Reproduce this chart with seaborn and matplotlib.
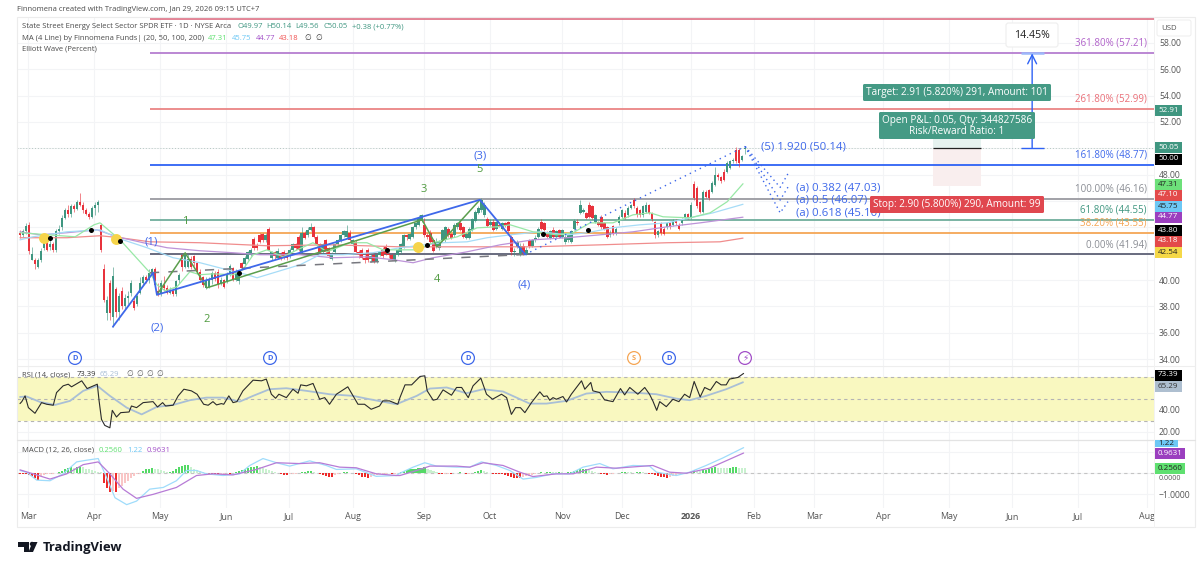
import matplotlib
matplotlib.use("Agg")
import matplotlib.pyplot as plt
from matplotlib.patches import Rectangle, FancyBboxPatch, Circle, Polygon
import seaborn as sns

# ---------- candles (one entry per trading day) ----------
bar_open = [
43.6,43.4,43.7,44.2,41.5,41.5,41.0,41.5,42.4,42.9,
42.5,42.7,42.3,43.7,44.0,44.7,45.3,45.0,45.6,45.4,
45.9,45.7,45.3,45.0,44.8,45.5,45.7,44.2,40.8,37.5,
39.8,37.2,39.3,37.6,39.2,38.0,38.6,39.0,38.4,38.2,
39.0,39.8,40.2,40.0,40.4,40.8,39.2,38.9,39.6,39.4,
39.0,39.2,38.9,40.0,41.9,41.0,41.0,41.6,41.8,41.3,
40.6,40.2,39.4,39.5,40.0,40.5,40.6,39.7,40.0,39.9,
40.4,40.9,40.0,39.9,41.3,41.2,41.6,41.9,43.1,42.6,
43.4,43.5,43.0,43.9,41.7,42.1,41.7,42.0,42.1,42.0,
41.8,42.3,42.7,43.3,42.05,43.6,43.4,43.8,44.0,43.3,
42.7,42.1,43.0,42.4,41.6,42.1,42.7,43.0,43.4,43.3,
43.6,42.7,42.9,42.1,42.3,41.7,42.3,41.6,41.9,41.4,
41.9,42.3,42.5,42.0,41.9,41.5,41.9,42.1,42.5,43.4,
43.1,43.3,44.0,44.2,44.5,44.2,43.4,43.6,43.0,42.6,
42.4,43.0,43.0,43.9,43.5,43.4,44.0,44.3,44.0,43.2,
43.2,43.8,44.5,45.1,45.3,44.9,44.6,44.2,44.4,43.9,
44.2,43.9,44.3,44.4,43.3,42.1,42.5,41.9,42.6,42.0,
43.0,42.6,43.0,43.3,44.4,44.3,43.6,43.2,43.8,43.3,
43.8,43.3,42.9,43.0,42.9,43.9,44.4,45.1,45.2,45.1,
45.7,45.6,44.4,44.4,44.8,44.3,44.0,43.4,44.1,43.5,
44.3,44.8,45.1,44.9,45.5,46.1,45.5,45.3,44.9,45.2,
45.7,45.1,44.4,43.4,44.3,43.9,44.0,44.3,44.2,44.5,
44.2,44.3,44.7,45.0,44.7,47.3,47.0,45.9,45.2,46.7,
46.8,46.7,47.2,48.0,47.8,48.2,48.2,48.5,49.0,49.9,
49.9,49.1,49.97]
bar_close = [
43.4,43.7,44.1,42.2,42.0,41.2,41.5,42.2,42.9,42.3,
42.7,42.3,43.7,43.9,44.7,45.3,45.0,45.6,45.4,45.9,
45.7,45.3,45.0,44.8,45.5,45.7,45.9,42.3,38.5,38.5,
37.5,40.3,37.6,38.8,38.0,38.6,38.8,39.8,37.9,38.8,
39.8,40.2,40.0,40.5,40.8,39.6,38.9,39.8,39.4,39.0,
39.2,38.9,39.9,40.4,41.0,41.9,41.6,41.0,41.3,40.6,
40.0,39.6,40.0,40.0,40.5,40.1,39.6,40.0,39.5,40.4,
41.1,40.0,40.7,40.6,40.9,41.7,42.1,42.3,42.4,42.4,
42.9,43.0,43.4,42.3,42.1,41.8,42.2,41.6,41.8,41.7,
42.3,42.7,42.4,42.3,43.6,43.2,43.8,44.0,43.3,42.7,
42.1,42.7,42.1,41.8,42.0,42.7,43.0,43.4,43.7,43.7,
43.0,43.0,42.1,41.9,41.7,41.5,41.5,41.8,41.4,41.9,
42.1,41.8,42.0,41.9,41.6,41.9,42.3,42.7,43.4,43.3,
43.5,44.0,44.3,44.7,44.9,43.4,43.3,42.9,42.2,42.9,
42.9,43.8,44.0,43.4,43.2,44.2,44.3,43.8,43.3,43.5,
43.9,44.6,45.2,45.5,46.1,45.7,44.1,44.4,43.8,44.4,
44.1,44.3,44.1,43.7,42.1,42.2,42.9,42.6,41.9,42.3,
42.6,43.0,43.2,43.9,43.9,43.8,43.3,43.7,43.3,43.7,
43.3,43.8,43.3,43.4,43.7,44.5,44.3,45.7,45.3,44.7,
44.8,44.7,44.9,44.2,44.0,43.9,43.3,43.6,43.5,43.9,
44.8,45.3,44.7,45.5,45.7,45.6,44.9,44.9,45.6,45.7,
45.1,44.6,43.4,43.7,43.6,43.5,44.3,44.0,44.5,44.3,
43.9,44.6,45.0,44.7,45.7,46.2,45.6,45.2,46.7,46.3,
46.2,47.4,48.0,47.8,47.5,47.6,48.9,49.0,49.1,49.0,
48.9,49.4,50.05]
bar_high = [
43.8,43.9,44.3,44.4,42.5,41.7,41.7,42.4,43.1,43.2,
43.0,42.9,43.9,44.2,44.9,45.5,45.7,45.8,45.8,46.1,
46.6,45.9,45.5,45.2,45.6,45.9,46.1,44.3,41.2,38.8,
40.0,41.0,39.5,39.0,39.5,38.9,39.2,40.0,38.8,39.0,
40.2,40.4,40.4,40.8,40.9,41.0,39.8,40.0,40.3,39.6,
39.5,39.4,40.0,40.5,41.9,42.1,42.0,41.8,41.9,41.4,
40.8,40.3,40.2,40.2,40.7,40.7,40.8,40.2,40.1,40.6,
41.2,41.0,40.8,40.7,41.4,41.8,42.2,42.4,43.3,42.8,
43.6,43.6,43.6,44.0,42.2,42.2,42.4,42.1,42.3,42.1,
42.4,42.8,42.8,43.4,44.0,43.7,44.0,44.3,44.1,43.4,
42.8,42.8,43.1,42.5,42.1,42.8,43.1,43.5,43.8,44.2,
43.8,43.1,43.0,42.3,42.4,41.9,42.4,42.0,42.0,42.0,
42.2,42.5,42.7,42.1,42.0,42.0,42.4,42.8,43.5,43.5,
43.6,44.1,44.4,44.9,45.0,44.7,43.6,43.8,43.1,43.2,
43.0,43.9,44.1,44.0,43.6,44.3,44.4,44.5,44.1,43.6,
44.0,44.7,45.3,45.6,46.2,45.9,44.8,44.6,44.6,44.5,
44.4,44.4,44.4,44.5,43.4,42.4,43.0,42.8,42.8,42.5,
43.1,43.1,43.4,44.0,44.6,44.4,43.7,43.8,44.0,43.8,
43.9,43.9,43.4,43.5,43.8,44.6,44.6,46.1,45.5,45.2,
45.9,45.7,45.0,44.5,44.9,44.4,44.1,43.8,44.2,44.0,
44.9,45.4,45.3,45.6,45.8,46.2,45.6,45.4,45.7,45.9,
45.8,45.2,44.5,43.8,44.4,44.0,44.4,44.4,44.6,44.6,
44.3,44.7,45.1,45.1,45.9,47.5,47.1,46.0,46.8,46.8,
46.9,47.5,48.6,48.1,47.9,48.4,49.0,49.1,49.3,50.1,
50.0,49.5,50.14]
bar_low = [
43.2,43.3,43.5,42.0,41.5,40.8,40.9,41.4,42.3,42.2,
42.3,42.1,42.1,43.5,43.8,44.6,44.8,44.8,45.2,45.3,
45.6,45.1,44.9,44.6,44.7,44.9,45.2,42.1,38.3,37.0,
37.0,36.4,37.2,37.0,37.8,37.8,38.2,38.8,37.7,38.0,
38.9,39.6,39.8,39.8,40.2,39.4,38.8,38.8,39.2,38.9,
38.9,38.8,38.8,39.8,40.7,40.9,40.9,40.8,41.1,40.5,
39.9,39.5,39.3,39.4,39.7,39.9,39.4,39.6,39.4,39.8,
40.3,39.9,39.9,39.7,40.8,41.1,41.5,41.8,42.3,42.3,
42.8,42.9,42.9,42.3,41.5,41.6,41.6,41.5,41.6,41.5,
41.7,42.2,42.3,42.2,42.0,43.1,43.3,43.7,43.2,42.6,
42.0,42.0,42.0,41.7,41.5,42.0,42.6,42.9,43.3,43.2,
42.9,42.6,42.0,41.7,41.6,41.3,41.4,41.4,41.3,41.3,
41.8,41.7,41.9,41.7,41.5,41.4,41.8,42.0,42.4,43.0,
43.0,43.2,43.9,44.1,44.4,43.3,43.1,42.8,42.1,42.4,
42.3,42.9,42.9,43.3,43.1,43.3,43.9,43.7,43.2,43.1,
43.1,43.7,44.4,45.0,45.2,44.8,44.0,44.1,43.7,43.8,
44.0,43.8,44.0,43.6,41.9,41.8,42.4,41.8,41.9,41.9,
42.4,42.5,42.9,43.2,43.8,43.7,43.2,43.1,43.2,43.2,
43.2,43.2,42.7,42.9,42.8,43.8,44.2,45.0,45.1,44.6,
44.7,44.6,44.3,44.1,43.9,43.8,43.2,43.3,43.4,43.4,
44.2,44.7,44.6,44.8,45.4,45.5,44.8,44.8,44.8,45.1,
45.0,44.5,43.2,43.3,43.4,43.4,43.9,43.9,44.1,44.2,
43.8,44.2,44.6,44.6,44.6,46.1,45.5,45.1,45.1,46.2,
46.1,46.6,47.1,47.6,47.4,47.5,48.1,48.4,48.9,48.9,
48.6,49.0,49.56]

# ---------- moving averages ----------
ma20_x = [0,18.4,24.7,26.7,33.4,43.4,45.7,48.4,52.4,56.7,60.1,64.4,71.1,74.4,77.8,82.4,87.8,92.5,97.8,102.5,110.1,115.8,121.2,126.8,132.5,137.8,145.9,152.5,159.2,163.6,171.2,179.2,184.6,190.3,197.9,204.6,210.3,214.6,223.6,230.3,236,241.3]
ma20_y = [43.59,43.28,44.19,44.34,43.05,40.55,39.64,39.18,39.49,40.63,40.4,40.47,40.4,40.78,41.91,42.29,41.76,42.29,42.83,42.14,42.83,42.83,42.29,42.29,42.29,42.83,43.28,43.96,44.04,44.19,43.66,43.43,43.59,44.34,44.34,44.95,45.1,44.8,44.72,45.1,45.94,47.31]
ma50_x = [0,4.3,15.7,26.7,32.4,42.4,51.1,60.1,69.1,75.8,79.1,85.8,93.5,100.1,107.8,117.8,126.8,141.2,149.2,155.9,163.6,173.6,182.6,189.3,197.9,206.9,216,223.6,231.3,241.3]
ma50_y = [43.05,43.28,43.66,43.81,43.2,42.45,41.69,41.31,40.78,40.4,40.17,40.63,41.16,41.92,41.92,42.07,42.45,42.83,42.9,43.21,43.43,43.66,43.43,43.59,43.97,44.19,44.34,44.72,45.1,45.75]
ma100_x = [0,6.7,15.7,25.7,32.4,41.1,49.1,60.1,71.1,80.1,93.5,104.5,115.8,124.5,131.2,137.8,149.2,160.2,171.2,182.6,193.6,204.6,216,227,241.3]
ma100_y = [43.66,43.43,43.59,43.81,43.28,42.83,42.45,42.22,42.07,41.92,41.92,41.69,41.76,41.54,41.31,41.69,42.14,42.67,43.05,43.21,43.43,43.66,44.04,44.34,44.77]
ma200_x = [0,15.7,26.7,33.4,43.4,60.1,82.4,104.5,126.8,149.2,171.2,193.6,216,233.6,241.3]
ma200_y = [43.21,43.21,43.36,43.21,42.9,42.83,42.6,42.67,42.52,42.52,42.52,42.67,42.83,42.9,43.18]

# ---------- Elliott wave, fib levels ----------
fib_levels = [59.82,57.21,52.99,48.77,46.16,44.55,43.55,41.94]
fib_colors = ["#e0788c","#b57ed0","#ea8585","#2e62f5","#9a9aa0","#6fae9c","#f5a655","#5d6075"]
wave_x = [31,44.4,45.7,153.5,168.6]
wave_y = [36.45,40.55,38.88,46.09,41.94]
subwave_x = [45.7,55.1,62.4,134.2,139.2,153.5]
subwave_y = [38.88,42.06,39.41,44.57,42.52,46.09]
trend_x = [43.4,168.6]
trend_y = [40.55,41.94]
proj_x = [168.6,242]
proj_y = [41.94,50.14]
abc_x = [242,253.7,256.3]
abc_y = [[50.14,47.03,48.07],[50.14,46.07,47.05],[50.14,45.10,45.95]]
black_x = [10,23.7,33.4,73.1,122.5,135.9,174.6,189.6]
black_y = [43.2,43.81,42.98,40.55,42.29,42.67,43.51,43.81]
gold_x = [8,32,132.8]
gold_y = [43.2,43.13,42.52]

# ---------- RSI ----------
rsi_x = [0,0.6,1.7,2.8,5,7.2,8.9,11.1,12.2,14.4,16.1,17.2,20.6,22.4,25.8,26.4,27.2,28.3,30,30.8,32.2,33.6,36.4,37.2,38.9,41.1,44.4,45.9,47.6,48.6,51.1,52.8,54.7,57.2,59.1,61.3,62.8,64.4,65.6,67.2,68,69.7,71.1,72.4,74.4,77.8,80.6,82.2,83.9,85.3,86.4,88.9,91.1,92.8,93.7,95.6,97.8,100,101.7,103.3,105.6,109.4,112.8,115,117.2,120,121.1,123.3,126.1,
126.8,128.5,130.7,133.5,135.1,135.9,137.9,139.2,141.2,144,145.7,147.4,149.6,151.2,153.8,155.7,157.7,160.7,162.4,164,165.4,167,168.5,170.7,173.5,174.8,175.9,176.8,177.9,179,181.2,182.4,184,187.4,188.5,190.5,191.2,193.5,195.1,197.9,200.4,201.8,203.5,206.2,208.5,210.1,211.2,212.5,213.5,215.7,217.9,219.9,221.8,223.5,225,227,228.5,230.4,232.4,234,235.7,236.8,239.6,241.5]
rsi_y = [45.7,47.5,52.8,42,36.8,46.6,45.1,44.2,55.8,62,63.5,61.1,66.6,59.5,63.5,48.2,31.2,25.7,23.5,39.5,33.4,37.4,38,43.5,42,46.6,47.5,42.6,46.6,43.5,44.2,52.8,58.9,57.4,54.3,45.1,44.2,47.5,44.5,45.7,45.1,52.8,46.6,47.5,57.4,67.2,66.6,68.2,54.3,50.6,54.3,51.2,58.9,55.2,62.9,62,64.2,49.7,51.2,45.1,54.3,61.1,45.1,45.1,40.5,43.5,48.2,48.2,45.1,
51.2,62.9,62.9,70.6,71.2,57.4,48.8,49.7,58.3,53.4,60.5,60.5,51.2,62,69.1,54.3,49.7,54.3,51.2,35.8,42,42,37.4,46.6,56.5,52.2,52.8,48.8,51.2,49.7,52.2,47.2,54.3,66.6,58.9,65.1,57.4,55.8,49.1,47.5,59.5,53.7,60.5,54.3,60.5,54.3,48.2,39.5,47.5,42.9,49.7,47.5,54.3,51.2,66,51.8,60.5,58,66,62.9,62.9,68.2,69.7,73.39]
rsi_ma_x = [0,2.2,6.7,11.7,16.7,21.1,25.8,30,35.6,40.6,45.6,51.1,56.7,62.2,67.8,73.3,77.8,83.3,88.9,95.6,103.3,111.1,116.7,125.6,132.4,136.8,142.4,149,154.6,161.2,165.7,170.1,175.7,182.4,189,195.7,204.6,212.4,219,223.5,229,235.7,241.3]
rsi_ma_y = [51.8,52.2,47.2,44.5,48.2,57.4,62,52.8,42,35.8,42.6,44.5,48.8,51.2,51.2,47.5,52.8,58.9,59.8,57.4,54.3,52.8,49.7,45.1,52.8,59.5,60.5,55.2,58.9,56.8,51.2,45.7,45.7,48.2,54.9,56.5,55.8,54.3,50.3,48.8,52.8,58.9,65.29]

# ---------- MACD ----------
macd_x = [0,2.2,5.6,10,14.4,18.9,22.2,26.1,28.9,31.7,35.6,38.9,43.3,47.8,52.2,55.6,58.9,62.2,67.8,73.3,76.7,81.1,85.6,90,96.7,102.2,105.6,112.2,118.9,125.6,126.8,131.2,135.1,139,145.7,150.1,154,159,163.5,167.9,172.4,177.9,183.5,187.9,193.5,197.9,204.6,210.1,212.4,219,223.5,229,234.6,241.5]
macd_y = [0.13,0.05,-0.33,-0.36,-0.03,0.54,0.62,0.70,-0.2,-1.17,-1.5,-1.33,-0.76,-0.68,-0.36,0.13,0.13,-0.03,-0.11,-0.03,0.37,0.70,0.50,0.34,0.59,0.37,0.18,0.21,-0.15,-0.11,0,0.29,0.5,0.34,0.29,0.29,0.54,0.37,0.13,-0.28,-0.2,-0.03,-0.03,0.29,0.46,0.21,0.37,0.34,0.05,-0.11,0.05,0.37,0.73,1.22]
signal_x = [0,4.4,10,15.6,21.1,26.1,30,34.4,38.9,44.4,52.2,58.9,64.4,71.1,78.9,85.6,93.3,100,106.7,112.2,118.9,125.6,126.8,132.4,136.8,145.7,150.1,154.6,161.2,166.8,171.2,179,184.6,192.4,199,211.2,216.8,222.4,230.1,241.5]
signal_y = [0.16,-0.03,-0.28,-0.03,0.41,0.54,-0.03,-0.76,-1.2,-1.01,-0.68,-0.11,-0.03,-0.08,0.18,0.50,0.46,0.50,0.29,0.26,-0.03,-0.11,-0.11,0.13,0.34,0.34,0.29,0.5,0.37,0.05,-0.16,-0.03,-0.03,0.29,0.24,0.37,0.05,0,0.24,0.9631]
macd_hist = [
-.02,-.03,-.03,-.1,-.15,-.25,-.3,-.12,-.08,-.05,
-.03,-.02,-.01,.08,.1,.2,.25,.3,.25,.3,
.32,.3,.22,.2,.15,.12,.08,.05,-.45,-.7,
-.9,-.85,-.9,-.7,-.6,-.45,-.35,-.25,-.15,-.06,
-.02,.1,.2,.22,.25,.2,.18,.15,.1,.05,
.08,.12,.18,.3,.35,.38,.38,.3,.22,.15,
.1,.06,.03,-.03,-.05,-.06,-.06,-.05,-.03,-.01,
-.02,.03,.05,.1,.15,.2,.25,.3,.32,.33,
.3,.25,.2,.15,.1,.05,.03,-.05,-.07,-.08,
-.06,-.03,-.02,.03,.05,.07,.1,.1,.05,.02,
-.04,-.1,-.13,-.17,-.2,-.1,-.06,.03,.05,.06,
.03,.01,-.04,-.1,-.16,-.2,-.22,-.18,-.12,-.08,
-.05,-.03,-.02,-.01,-.03,-.02,.02,.05,.1,.15,
.18,.2,.22,.25,.25,.28,.2,.15,.1,.05,
-.03,-.05,-.03,-.02,-.04,.02,.03,.05,.03,-.03,
-.02,.02,.05,.1,.15,.1,.05,.03,-.02,-.03,
-.03,-.05,-.1,-.15,-.2,-.22,-.25,-.25,-.2,-.15,
-.12,-.08,-.04,.03,.05,.03,.05,.07,.05,.04,
.07,.05,.03,.05,.08,.1,.15,.18,.2,.2,
.15,.1,.05,.03,-.03,-.05,-.07,-.04,-.02,.02,
.03,.05,.08,.06,.04,.03,.06,.08,.05,.02,
-.02,-.05,-.08,-.12,-.18,-.2,-.22,-.18,-.12,-.08,
-.05,-.03,-.02,.02,.06,.14,.12,.1,.13,.17,
.2,.24,.28,.27,.26,.25,.24,.26,.28,.29,
.27,.26,.256]

# ---------- axis labels ----------
month_pos = [2.7,24.7,46.7,68.8,89.8,111.1,134.8,156.9,180.9,200.9,224,245,265,288,310,331.1,353,376.2]
month_labels = ["Mar","Apr","May","Jun","Jul","Aug","Sep","Oct","Nov","Dec","2026","Feb","Mar","Apr","May","Jun","Jul","Aug"]
price_ticks = [34,36,38,40,42,44,46,48,50,52,54,56,58]
price_hidden = [42,44,46,50]

# ---------- theme ----------
sns.set_theme(style="white")
FONT = ["Open Sans", "DejaVu Sans"]
plt.rcParams["font.family"] = FONT
W, H = 1200, 562
fig = plt.figure(figsize=(12, 5.62), dpi=100, facecolor="white")

def pane(top, bottom, left=17, right=1153.5):
    return fig.add_axes([left/W, 1-bottom/H, (right-left)/W, (bottom-top)/H])

ax = pane(17, 366)
ax_r = pane(366, 440)
ax_m = pane(440, 508)
XL = (-1.0, 378.3)
GRID = "#f3f4f6"
for a in (ax, ax_r, ax_m):
    a.set_xlim(*XL)
    a.set_xticks(month_pos)
    a.grid(True, color=GRID, linewidth=0.8)
    a.set_axisbelow(True)
    a.yaxis.tick_right()
    a.tick_params(length=0, labelsize=6.2, labelcolor="#555555", pad=4)
    a.tick_params(axis="x", labelbottom=False)
    for s in a.spines.values():
        s.set_visible(False)
    a.patch.set_alpha(0)

ax.set_ylim(33.47, 59.97)
ax.set_yticks(price_ticks)
ax.set_yticklabels(["" if v in price_hidden else f"{v:.2f}" for v in price_ticks])
ax_r.set_ylim(12.3, 80.2)
ax_r.set_yticks([20, 40, 60, 80])
ax_r.set_yticklabels(["20.00", "40.00", "", ""])
ax_m.set_ylim(-1.66, 1.585)
ax_m.set_yticks([-1, 0, 1])
ax_m.set_yticklabels(["\u22121.0000", "", ""])
ax_m.tick_params(axis="x", labelbottom=True, labelsize=6.4, pad=3)
ax_m.set_xticklabels(month_labels)
for lab, txt in zip(ax_m.get_xticklabels(), month_labels):
    if txt == "2026":
        lab.set_fontweight("bold")

UP, DOWN = "#3f9680", "#e8323c"

def line(a, x, y, color, lw=0.8, ls="-", z=3, alpha=1.0):
    sns.lineplot(x=x, y=y, ax=a, color=color, linewidth=lw, linestyle=ls,
                 estimator=None, sort=False, legend=False, zorder=z, alpha=alpha,
                 errorbar=None)

# ---------- main pane ----------
i_pos = (304.7, 320.8)
ax.add_patch(Rectangle((i_pos[0], 50.0), i_pos[1]-i_pos[0], 2.91, color="#e6f2ef", lw=0, zorder=1))
ax.add_patch(Rectangle((i_pos[0], 47.1), i_pos[1]-i_pos[0], 2.90, color="#f9eeee", lw=0, zorder=1))
ax.hlines(50.0, *i_pos, color="#222222", lw=0.9, zorder=2)
ax.axhline(bar_close[-1], color="#b6c8c2", lw=0.7, ls=(0, (1, 2)), zorder=1)

for lv, c in zip(fib_levels, fib_colors):
    ax.hlines(lv, 43.4, XL[1], color=c, lw=1.3, zorder=2)

for i, (o, c, h, l) in enumerate(zip(bar_open, bar_close, bar_high, bar_low)):
    col = UP if c >= o else DOWN
    ax.vlines(i, l, h, color=col, lw=0.6, alpha=0.7, zorder=3)
    ax.bar(i, abs(c-o), bottom=min(o, c), width=0.82, color=col, lw=0, zorder=3.2)

line(ax, ma200_x, ma200_y, "#f08d8d", 0.9, z=4)
line(ax, ma100_x, ma100_y, "#bd93d8", 0.9, z=4)
line(ax, ma50_x, ma50_y, "#a6dcf7", 0.9, z=4)
line(ax, ma20_x, ma20_y, "#98e8a6", 0.9, z=4)

line(ax, trend_x, trend_y, "#77787f", 1.1, (0, (6, 6)), z=5)
line(ax, subwave_x, subwave_y, "#5b9e4d", 1.1, z=5)
line(ax, wave_x, wave_y, "#3e68ea", 1.3, z=5.1)
line(ax, proj_x, proj_y, "#3e68ea", 1.0, (0, (1, 3)), z=5)
for yy in abc_y:
    line(ax, abc_x, yy, "#3e68ea", 1.0, (0, (1, 2.5)), z=5)

sns.scatterplot(x=gold_x, y=gold_y, ax=ax, color="#f6d44a", s=62, linewidth=0, zorder=6, legend=False)
sns.scatterplot(x=black_x, y=black_y, ax=ax, color="black", s=13, linewidth=0, zorder=6.1, legend=False)

i_arrow = 337.8
ax.hlines(50.05, i_arrow-3.8, i_arrow+3.8, color="#2e62f5", lw=1.0, zorder=6)
ax.hlines(57.21, i_arrow-3.8, i_arrow+3.8, color="#9db8fa", lw=1.8, zorder=6)
ax.annotate("", xy=(i_arrow, 57.21), xytext=(i_arrow, 50.05), zorder=6,
            arrowprops=dict(arrowstyle="->", color="#2e62f5", lw=1.0, mutation_scale=16, shrinkA=0, shrinkB=0))

# ---------- RSI pane ----------
ax_r.axhspan(30, 70, color="#f9f8c0", lw=0, zorder=0.8)
for lv in (30, 50, 70):
    ax_r.axhline(lv, color="#b4b4b4", lw=0.8, ls=(0, (3, 3)), zorder=1)
line(ax_r, rsi_ma_x, rsi_ma_y, "#a9bfd6", 1.3, z=3)
line(ax_r, rsi_x, rsi_y, "#2b2b2b", 0.8, z=4)

# ---------- MACD pane ----------
ax_m.axhline(0, color="#c4c4c4", lw=0.8, ls=(0, (3, 3)), zorder=1)
prev = 0.0
for i, v in enumerate(macd_hist):
    if v >= 0:
        col = "#54d966" if v >= prev else "#c9f1cf"
    else:
        col = "#ee2a2a" if v <= prev else "#f9c6c6"
    ax_m.bar(i, v, width=0.68, color=col, lw=0, zorder=2)
    prev = v
line(ax_m, macd_x, macd_y, "#9fdcfb", 0.9, z=3)
line(ax_m, signal_x, signal_y, "#b77bd6", 0.9, z=3.1)

# ---------- overlay: texts, tags, boxes (pixel coordinates) ----------
ov = fig.add_axes([0, 0, 1, 1], zorder=20)
ov.set_xlim(0, W)
ov.set_ylim(H, 0)
ov.axis("off")
ov.patch.set_alpha(0)

def t(x, y, s, color="#4a4a4a", size=5.5, ha="left", weight="normal", z=30):
    ov.text(x, y, s, color=color, fontsize=size, ha=ha, va="center", fontweight=weight, zorder=z)

ov.add_patch(Rectangle((17, 17), 1178, 510, fill=False, ec="#ececec", lw=0.8))
ov.plot([17, 1195], [366, 366], color="#eeeeee", lw=0.8)
ov.plot([17, 1195], [440, 440], color="#e3e3e3", lw=0.9)
ov.plot([1154, 1154], [17, 527], color="#f2f2f2", lw=0.7)

t(17, 9.5, "Finnomena created with TradingView.com, Jan 29, 2026 09:15 UTC+7")
t(22, 27, "State Street Energy Select Sector SPDR ETF \u00b7 1D \u00b7 NYSE Arca")
GRN = "#3f9680"
for x, s in zip((237, 266, 295, 323, 352), ("O49.97", "H50.14", "L49.56", "C50.05", "+0.38 (+0.77%)")):
    t(x, 27, s, GRN)
t(22, 38, "MA (4 Line) by Finnomena Funds| (20, 50, 100, 200)")
t(208, 38, "47.31", "#5fe070")
t(232, 38, "45.75", "#6dc8f5")
t(256, 38, "44.77", "#a24fc8")
t(279, 38, "43.18", "#f05050")
t(304, 38, "\u2205", "#333333")
t(315, 38, "\u2205", "#333333")
t(22, 49, "Elliott Wave (Percent)")
t(22, 375, "RSI (14, close)")
t(77, 375, "73.39", "#333333")
t(100, 375, "65.29", "#a9bfd6")
for x in (126, 136, 146, 156):
    t(x, 375, "\u2205", "#555555")
t(22, 450, "MACD (12, 26, close)")
t(99, 450, "0.2560", "#5fe070")
t(127, 450, "1.22", "#6dc8f5")
t(147, 450, "0.9631", "#a24fc8")

FIB = 7.0
for y, s, c in [(43, "361.80% (57.21)", "#b061c9"), (99, "261.80% (52.99)", "#ea6f78"),
                (155, "161.80% (48.77)", "#3e68ea"), (189, "100.00% (46.16)", "#8a8d94"),
                (210, "61.80% (44.55)", "#3f9680"), (223, "38.20% (43.55)", "#f5a655"),
                (245, "0.00% (41.94)", "#8a8d94")]:
    t(1147, y, s, c, FIB, ha="right")

BLUE = "#3e68ea"
for x, y, s in [(151, 242, "(1)"), (157, 328, "(2)"), (480, 156, "(3)"), (524, 285, "(4)")]:
    t(x, y, s, BLUE, 8.2, ha="center")
t(761, 147, "(5) 1.920 (50.14)", BLUE, 8.2)
for y, s in [(188, "(a) 0.382 (47.03)"), (200, "(a) 0.5 (46.07)"), (213, "(a) 0.618 (45.10)")]:
    t(796, y, s, BLUE, 8.2, z=25)
for x, y, s in [(185, 221, "1"), (207, 320, "2"), (424, 189, "3"), (437, 279, "4"), (480, 169, "5")]:
    t(x, y, s, "#4f9a3f", 8, ha="center")

def box(x0, y0, x1, y1, color, s, tc="white", size=7.2, z=27):
    ov.add_patch(FancyBboxPatch((x0+1.5, y0+1.5), x1-x0-3, y1-y0-3, boxstyle="round,pad=1.5,rounding_size=1.5",
                                fc=color, ec="none", zorder=z))
    ov.text((x0+x1)/2, (y0+y1)/2, s, color=tc, fontsize=size, ha="center", va="center",
            zorder=z+1, linespacing=1.0)

box(863, 84, 1051, 101, "#459a85", "Target: 2.91 (5.820%) 291, Amount: 101")
box(879, 112, 1035, 139, "#459a85", "Open P&L: 0.05, Qty: 344827586\nRisk/Reward Ratio: 1")
box(870, 196, 1044, 213, "#e0474f", "Stop: 2.90 (5.800%) 290, Amount: 99")
ov.add_patch(FancyBboxPatch((1008, 25), 48, 20, boxstyle="round,pad=2,rounding_size=2.5",
                            fc="white", ec="#eeeeee", lw=0.8, zorder=27))
t(1032, 35, "14.45%", "#222222", 7.6, ha="center", z=28)

for x, c, s, fs in [(75, "#3e68ea", "D", 5.4), (270, "#3e68ea", "D", 5.4), (468, "#3e68ea", "D", 5.4),
                    (634, "#f5a655", "S", 5.4), (669, "#3e68ea", "D", 5.4), (745, "#a24fc8", "\u26a1", 6.5)]:
    ov.add_patch(Circle((x, 358), 6.4, fc="white", ec=c, lw=0.9, zorder=26))
    ov.text(x, 358, s, color=c, fontsize=fs, ha="center", va="center", zorder=27,
            fontweight="bold")

def tag(y, s, bg, fg="white", x1=1182, weight="normal", h=11):
    ov.add_patch(Rectangle((1154.5, y-h/2), x1-1154.5, h, fc=bg, ec="none", zorder=28))
    ov.text((1154.5+x1)/2, y, s, color=fg, fontsize=5.8, ha="center", va="center", zorder=29, fontweight=weight)

TEAL = "#3f9680"
for y, s, bg, fg in [(110, "52.91", TEAL, "white"), (147.5, "50.05", TEAL, "white"),
                     (159, "50.00", "black", "white"), (184, "47.31", "#6de07a", "#222222"),
                     (195, "47.10", "#e34a4a", "white"), (206, "45.75", "#6dc8f5", "#222222"),
                     (217, "44.77", "#9b3fbf", "white"), (230, "43.80", "black", "white"),
                     (241, "43.18", "#e34a4a", "white"), (252, "42.54", "#f5d848", "#222222"),
                     (375, "73.39", "black", "white"), (386, "65.29", "#aebfd0", "#333333")]:
    tag(y, s, bg, fg)
tag(443.5, "1.22", "#6dc8f5", "#222222", x1=1178, h=7)
tag(453.5, "0.9631", "#9b3fbf", "white", x1=1185)
tag(468, "0.2560", "#5fe070", "#222222", x1=1185)
t(1159, 478, "0.0000", "#555555", 5.0, z=27)

ov.add_patch(FancyBboxPatch((1158, 21), 32, 14, boxstyle="round,pad=1,rounding_size=2",
                            fc="white", ec="#eeeeee", lw=0.7, zorder=28))
t(1169, 28.5, "USD", "#555555", 5.6, ha="center", z=29)

ov.add_patch(Polygon([(18, 542), (29, 542), (29, 552), (24, 552), (24, 546.5), (18, 546.5)], fc="#131722", ec="none"))
ov.add_patch(Circle((32, 544), 2.2, fc="#131722", ec="none"))
ov.add_patch(Polygon([(33, 552), (28.5, 552), (32.5, 542), (37.5, 542)], fc="#131722", ec="none"))
t(43, 547, "TradingView", "#131722", 9.4, weight="bold")

fig.savefig("out.png", dpi=100, facecolor="white")
